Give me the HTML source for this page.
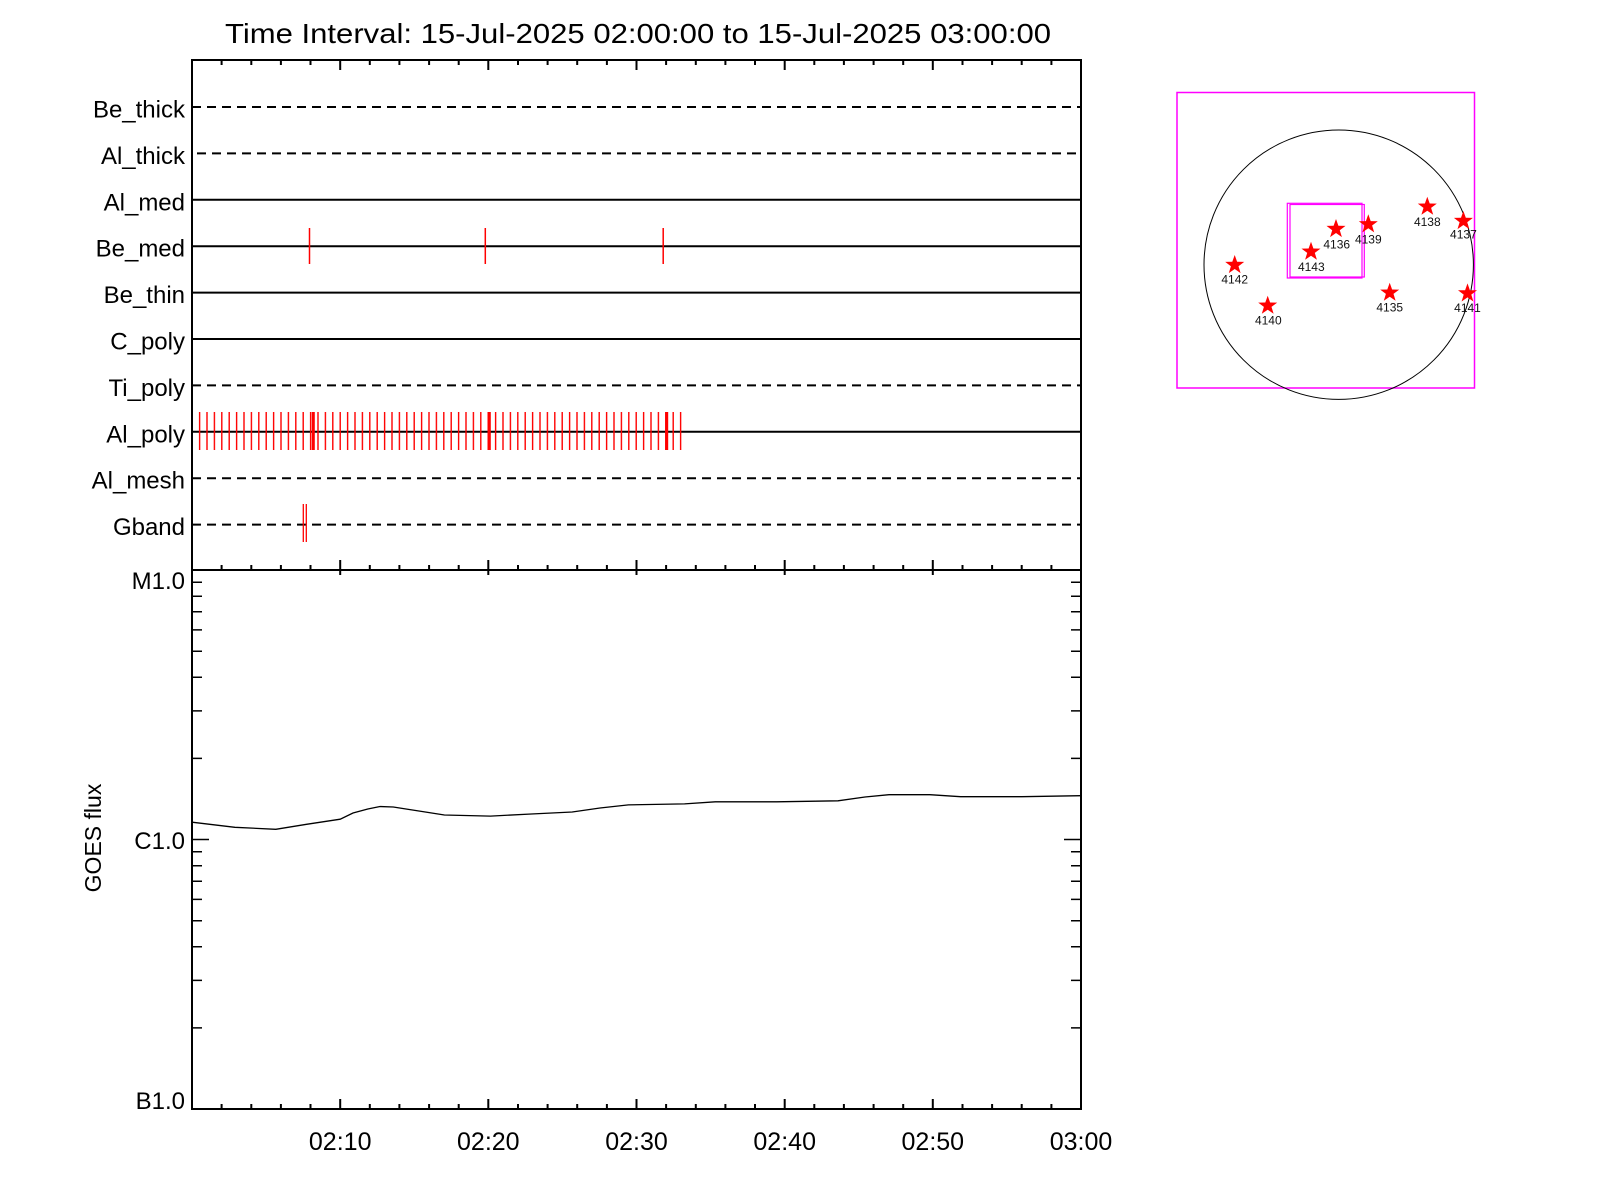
<!DOCTYPE html>
<html><head><meta charset="utf-8"><style>html,body{margin:0;padding:0;background:#fff}svg{display:block}</style></head>
<body>
<svg width="1600" height="1200" viewBox="0 0 1600 1200" xmlns="http://www.w3.org/2000/svg" font-family="Liberation Sans, sans-serif">
<defs>
<pattern id="tk" x="191.5" y="0" width="7.4" height="1200" patternUnits="userSpaceOnUse">
<rect x="0" y="0" width="1.4" height="1200" fill="#ff0000"/>
</pattern>
</defs>
<rect width="1600" height="1200" fill="#fff"/>
<text x="638" y="43" font-size="28" text-anchor="middle" textLength="826" lengthAdjust="spacingAndGlyphs">Time Interval: 15-Jul-2025 02:00:00 to 15-Jul-2025 03:00:00</text>

<g stroke="#000" stroke-width="2" fill="none">
<line x1="192" y1="107" x2="1081" y2="107" stroke-dasharray="9 6"/>
<line x1="197" y1="153.4" x2="1076" y2="153.4" stroke-dasharray="9 6"/>
<line x1="192" y1="199.8" x2="1081" y2="199.8"/>
<line x1="192" y1="246.2" x2="1081" y2="246.2"/>
<line x1="192" y1="292.6" x2="1081" y2="292.6"/>
<line x1="192" y1="339" x2="1081" y2="339"/>
<line x1="192" y1="385.4" x2="1081" y2="385.4" stroke-dasharray="9 6"/>
<line x1="192" y1="431.8" x2="1081" y2="431.8"/>
<line x1="192" y1="478.2" x2="1081" y2="478.2" stroke-dasharray="9 6"/>
<line x1="192" y1="524.6" x2="1081" y2="524.6" stroke-dasharray="9 6"/>
</g>
<g font-size="24" text-anchor="end">
<text x="185" y="117.5">Be_thick</text>
<text x="185" y="163.9">Al_thick</text>
<text x="185" y="210.3">Al_med</text>
<text x="185" y="256.7">Be_med</text>
<text x="185" y="303.1">Be_thin</text>
<text x="185" y="349.5">C_poly</text>
<text x="185" y="395.9">Ti_poly</text>
<text x="185" y="442.3">Al_poly</text>
<text x="185" y="488.7">Al_mesh</text>
<text x="185" y="535.1">Gband</text>
</g>

<rect x="191.5" y="412" width="491.5" height="38" fill="url(#tk)"/>
<g stroke="#ff0000">
<line x1="313.3" y1="412" x2="313.3" y2="450" stroke-width="3"/>
<line x1="489.3" y1="412" x2="489.3" y2="450" stroke-width="3"/>
<line x1="666.7" y1="412" x2="666.7" y2="450" stroke-width="3"/>
<line x1="309.5" y1="228" x2="309.5" y2="264" stroke-width="1.5"/>
<line x1="485.3" y1="228" x2="485.3" y2="264" stroke-width="1.5"/>
<line x1="663.2" y1="228" x2="663.2" y2="264" stroke-width="1.5"/>
<line x1="303.3" y1="504" x2="303.3" y2="542" stroke-width="1.3"/>
<line x1="306.3" y1="504" x2="306.3" y2="542" stroke-width="1.3"/>
</g>

<g stroke="#000" stroke-width="2" fill="none">
<rect x="192" y="60" width="889" height="1049"/>
<line x1="192" y1="570" x2="1081" y2="570"/>
</g>
<g stroke="#000" stroke-width="2">
<path d="M221.6 60v5M251.3 60v5M280.9 60v5M310.5 60v5M340.2 60v10M369.8 60v5M399.4 60v5M429.1 60v5M458.7 60v5M488.3 60v10M518 60v5M547.6 60v5M577.2 60v5M606.9 60v5M636.5 60v10M666.1 60v5M695.8 60v5M725.4 60v5M755 60v5M784.7 60v10M814.3 60v5M843.9 60v5M873.6 60v5M903.2 60v5M932.8 60v10M962.5 60v5M992.1 60v5M1021.7 60v5M1051.4 60v5"/>
<path d="M221.6 570v-5M251.3 570v-5M280.9 570v-5M310.5 570v-5M340.2 575v-15M369.8 570v-5M399.4 570v-5M429.1 570v-5M458.7 570v-5M488.3 575v-15M518 570v-5M547.6 570v-5M577.2 570v-5M606.9 570v-5M636.5 575v-15M666.1 570v-5M695.8 570v-5M725.4 570v-5M755 570v-5M784.7 575v-15M814.3 570v-5M843.9 570v-5M873.6 570v-5M903.2 570v-5M932.8 575v-15M962.5 570v-5M992.1 570v-5M1021.7 570v-5M1051.4 570v-5M1081 575v-15"/>
<path d="M221.6 1109v-5M251.3 1109v-5M280.9 1109v-5M310.5 1109v-5M340.2 1109v-10M369.8 1109v-5M399.4 1109v-5M429.1 1109v-5M458.7 1109v-5M488.3 1109v-10M518 1109v-5M547.6 1109v-5M577.2 1109v-5M606.9 1109v-5M636.5 1109v-10M666.1 1109v-5M695.8 1109v-5M725.4 1109v-5M755 1109v-5M784.7 1109v-10M814.3 1109v-5M843.9 1109v-5M873.6 1109v-5M903.2 1109v-5M932.8 1109v-10M962.5 1109v-5M992.1 1109v-5M1021.7 1109v-5M1051.4 1109v-5"/>
</g>
<g stroke="#000" stroke-width="1.5">
<path d="M192 839.5h17M1081 839.5h-17
M192 1027.9h10M192 980.4h10M192 946.8h10M192 920.7h10M192 899.4h10M192 881.3h10M192 865.7h10M192 851.8h10
M192 758.4h10M192 710.9h10M192 677.3h10M192 651.2h10M192 629.9h10M192 611.8h10M192 596.2h10M192 582.3h10
M1081 1027.9h-10M1081 980.4h-10M1081 946.8h-10M1081 920.7h-10M1081 899.4h-10M1081 881.3h-10M1081 865.7h-10M1081 851.8h-10
M1081 758.4h-10M1081 710.9h-10M1081 677.3h-10M1081 651.2h-10M1081 629.9h-10M1081 611.8h-10M1081 596.2h-10M1081 582.3h-10"/>
</g>
<g font-size="24" text-anchor="end">
<text x="185" y="589">M1.0</text>
<text x="185" y="849">C1.0</text>
<text x="185" y="1109">B1.0</text>
</g>
<g font-size="25" text-anchor="middle">
<text x="340.2" y="1150">02:10</text>
<text x="488.3" y="1150">02:20</text>
<text x="636.5" y="1150">02:30</text>
<text x="784.7" y="1150">02:40</text>
<text x="932.8" y="1150">02:50</text>
<text x="1081" y="1150">03:00</text>
</g>
<text transform="translate(101,838) rotate(-90)" font-size="23" text-anchor="middle">GOES flux</text>

<polyline fill="none" stroke="#000" stroke-width="1.3" points="192,822.2 234.9,827.3 275.8,829.3 306.5,824.3 340.2,819.2 353,813 367.8,809 380,806.5 393.3,807 406,809 418.9,811 444.4,815 490.4,816.1 531.3,814 572.2,812 600,808 628.4,804.9 684.6,803.9 715.3,801.8 776.6,801.8 838,800.8 865,797 889,794.7 929.9,794.7 960.5,796.7 1021.9,796.7 1081,795.7"/>

<rect x="1177" y="92.5" width="297.5" height="295.5" fill="none" stroke="#ff00ff" stroke-width="1.5"/>
<circle cx="1338.7" cy="264.7" r="134.7" fill="none" stroke="#000" stroke-width="1"/>
<rect x="1287.3" y="203.3" width="74.7" height="74.7" fill="none" stroke="#ff00ff" stroke-width="1.2"/>
<rect x="1290" y="204.5" width="74.3" height="72.5" fill="none" stroke="#ff00ff" stroke-width="1.2"/>
<defs>
<polygon id="st" points="0,-10 2.4,-3.2 9.5,-3.1 3.8,1.2 5.9,8.1 0,4 -5.9,8.1 -3.8,1.2 -9.5,-3.1 -2.4,-3.2" fill="#ff0000"/>
</defs>
<use href="#st" x="1311" y="251.7"/>
<use href="#st" x="1336" y="229"/>
<use href="#st" x="1368.3" y="224.3"/>
<use href="#st" x="1427.3" y="206.7"/>
<use href="#st" x="1463.4" y="221"/>
<use href="#st" x="1234.7" y="265"/>
<use href="#st" x="1267.7" y="305.7"/>
<use href="#st" x="1389.7" y="292.7"/>
<use href="#st" x="1467.5" y="293.4"/>
<g font-size="12" text-anchor="middle" fill="#111">
<text x="1311.3" y="271">4143</text>
<text x="1336.7" y="248.5">4136</text>
<text x="1368.3" y="243.5">4139</text>
<text x="1427.3" y="226">4138</text>
<text x="1463.4" y="238.5">4137</text>
<text x="1234.7" y="283.5">4142</text>
<text x="1268.3" y="324.5">4140</text>
<text x="1389.7" y="311.5">4135</text>
<text x="1467.5" y="312">4141</text>
</g>
</svg>
</body></html>
